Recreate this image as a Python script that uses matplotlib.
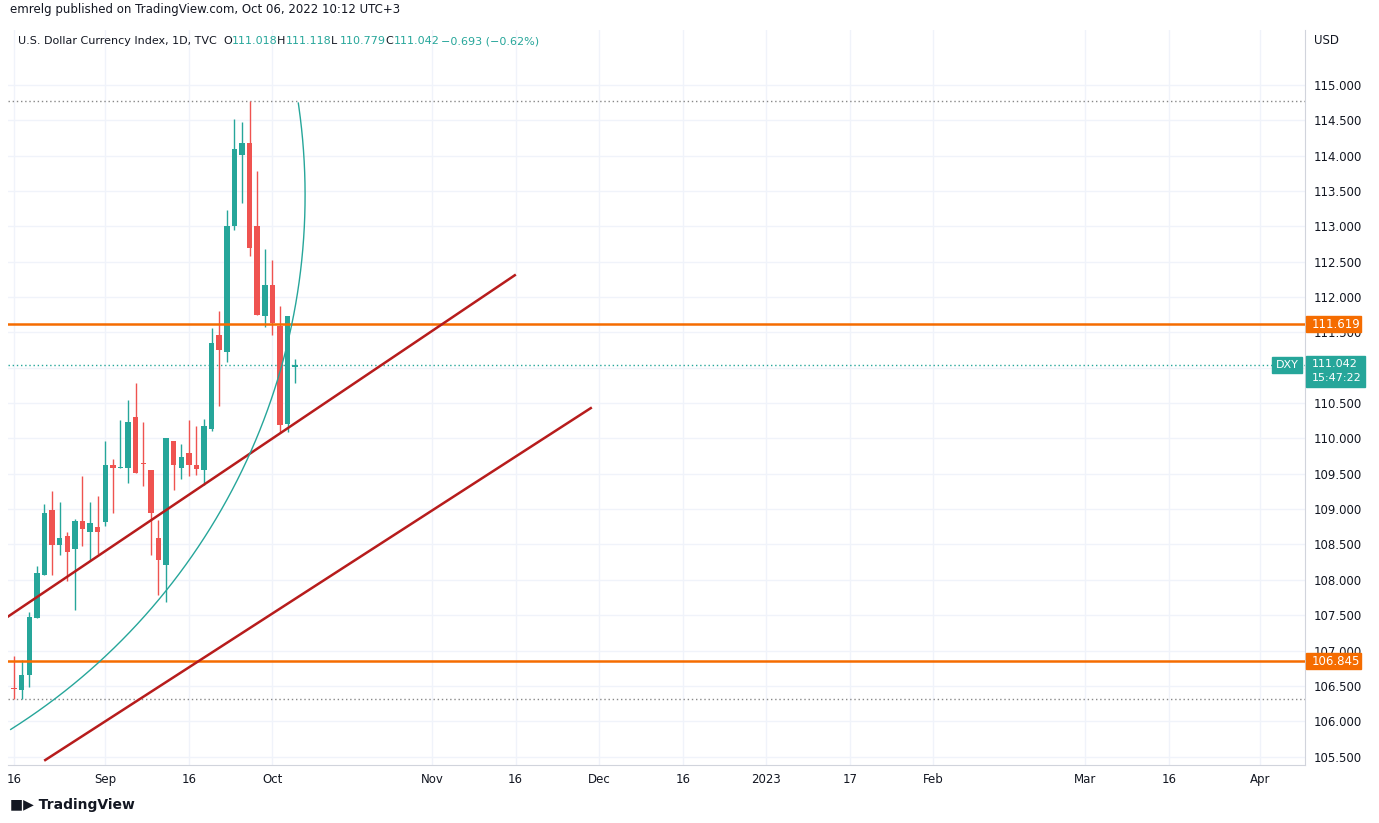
import numpy as np
import pandas as pd
import matplotlib.pyplot as plt
from matplotlib.patches import Rectangle

# daily candles, Aug 16 2022 .. Oct 6 2022 (weekdays)
opens = [106.47, 106.44, 106.66, 107.46, 108.07, 108.99, 108.49, 108.62, 108.44, 108.83,
         108.68, 108.75, 108.82, 109.63, 109.58, 109.58, 110.31, 109.66, 109.56, 108.59,
         108.21, 109.96, 109.58, 109.79, 109.63, 109.56, 110.14, 111.47, 111.22, 113.01,
         114.01, 114.18, 113.01, 111.73, 112.17, 111.59, 110.20, 111.018]
highs = [106.92, 106.87, 107.54, 108.20, 109.08, 109.25, 109.10, 108.67, 108.86, 109.47,
         109.10, 109.19, 109.96, 109.71, 110.26, 110.54, 110.78, 110.23, 109.56, 108.84,
         110.00, 109.96, 109.92, 110.26, 110.17, 110.28, 111.57, 111.81, 113.23, 114.52,
         114.48, 114.78, 113.79, 112.68, 112.53, 111.88, 111.73, 111.118]
lows = [106.31, 106.31, 106.49, 107.46, 108.07, 108.07, 108.35, 107.99, 107.58, 108.48,
        108.28, 108.37, 108.76, 108.94, 109.58, 109.37, 109.51, 109.33, 108.35, 107.79,
        107.68, 109.27, 109.42, 109.47, 109.49, 109.34, 110.11, 110.46, 111.08, 112.95,
        113.33, 112.58, 111.75, 111.58, 111.46, 110.09, 110.09, 110.779]
closes = [106.45, 106.65, 107.47, 108.09, 108.94, 108.49, 108.59, 108.40, 108.83, 108.72,
          108.81, 108.67, 109.62, 109.58, 109.59, 110.24, 109.51, 109.64, 108.94, 108.28,
          110.00, 109.63, 109.74, 109.63, 109.57, 110.18, 111.35, 111.25, 113.01, 114.10,
          114.18, 112.69, 111.75, 112.17, 111.64, 110.19, 111.73, 111.042]

# drawings (bar index, price)
line1 = [(-0.8, 107.48), (65.9, 112.31)]
line2 = [(4.1, 105.45), (75.9, 110.43)]
hlines = [111.619, 106.845]
arc_center = (-44.9, 113.44)
arc_radius = (83.2, 8.94)
arc_deg = (-57.7, 8.4)

xtick_dates = ["2022-08-16", "2022-09-01", "2022-09-16", "2022-10-03", "2022-11-01", "2022-11-16",
               "2022-12-01", "2022-12-16", "2023-01-02", "2023-01-17", "2023-02-01", "2023-03-01",
               "2023-03-16", "2023-04-03"]
xtick_labels = ["16", "Sep", "16", "Oct", "Nov", "16", "Dec", "16", "2023", "17", "Feb", "Mar", "16", "Apr"]

GREEN = "#26a69a"
RED = "#ef5350"
ORANGE = "#f56c00"
DRED = "#b71c1c"
GRID = "#f0f3fa"
TXT = "#131722"

W, H = 1379, 823
fig = plt.figure(figsize=(W / 100, H / 100), dpi=100)
ax = fig.add_axes([8 / W, (H - 765) / H, 1297 / W, 735 / H])

start = np.datetime64("2022-08-16")
xt = [np.busday_count(start, np.datetime64(d)) for d in xtick_dates]

ax.set_xlim(-0.8, 169.9)
ax.set_ylim(105.38, 115.78)
ax.set_xticks(xt)
ax.set_xticklabels(xtick_labels)
yt = np.arange(105.5, 115.01, 0.5)
ax.set_yticks(yt)
ax.set_yticklabels([f"{v:.3f}" for v in yt])
ax.yaxis.tick_right()
ax.tick_params(length=0, labelsize=8.5, colors=TXT, pad=6)
ax.grid(True, color=GRID, lw=1)
ax.set_axisbelow(True)
for s in ["top", "left"]:
    ax.spines[s].set_visible(False)
ax.spines["right"].set_color("#d1d4dc")
ax.spines["bottom"].set_color("#d1d4dc")

for i, (o, h, l, c) in enumerate(zip(opens, highs, lows, closes)):
    col = GREEN if c >= o else RED
    ax.vlines(i, l, h, color=col, lw=1, zorder=3)
    lo, hi = min(o, c), max(o, c)
    ax.add_patch(Rectangle((i - 0.36, lo), 0.72, max(hi - lo, 0.02), color=col, zorder=3, lw=0))

ax.axhline(max(highs), color="#888888", ls=(0, (1, 2)), lw=1)
ax.axhline(min(lows), color="#888888", ls=(0, (1, 2)), lw=1)
ax.axhline(closes[-1], color=GREEN, ls=(0, (1, 2)), lw=1)
for p in hlines:
    ax.axhline(p, color=ORANGE, lw=1.8, zorder=4)
for ln in [line1, line2]:
    ax.plot([ln[0][0], ln[1][0]], [ln[0][1], ln[1][1]], color=DRED, lw=1.8, zorder=4)
t = np.radians(np.linspace(arc_deg[0], arc_deg[1], 200))
ax.plot(arc_center[0] + arc_radius[0] * np.cos(t), arc_center[1] + arc_radius[1] * np.sin(t),
        color=GREEN, lw=1, zorder=4)

# price tags
def tag(y, text, color, x0=1306, w=55):
    fy = ax.transData.transform((0, y))[1] / H
    fig.patches.append(Rectangle((x0 / W, fy - 8 / H), w / W, 16 / H, color=color,
                                 transform=fig.transFigure, zorder=5))
    fig.text((x0 + 6) / W, fy, text, color="white", fontsize=8.5, va="center", zorder=6)

for p in hlines:
    tag(p, f"{p:.3f}", ORANGE)
yy = ax.transData.transform((0, closes[-1]))[1] / H
fig.patches.append(Rectangle((1306 / W, yy - 22 / H), 59 / W, 31 / H, color=GREEN,
                             transform=fig.transFigure, zorder=5))
fig.text(1312 / W, yy + 1 / H, f"{closes[-1]:.3f}", color="white", fontsize=8, va="center", zorder=6)
fig.text(1312 / W, yy - 13 / H, "15:47:22", color="white", fontsize=8, va="center", zorder=6)
fig.patches.append(Rectangle((1272 / W, yy - 8 / H), 30 / W, 16 / H, color=GREEN,
                             transform=fig.transFigure, zorder=5))
fig.text(1287 / W, yy, "DXY", color="white", fontsize=8, va="center", ha="center", zorder=6)

fig.text(1314 / W, 1 - 40 / H, "USD", fontsize=8.5, color=TXT, va="center")
fig.text(10 / W, 1 - 10 / H, "emrelg published on TradingView.com, Oct 06, 2022 10:12 UTC+3",
         fontsize=8.5, color=TXT, va="center")
fig.text(18 / W, 1 - 41 / H, "U.S. Dollar Currency Index, 1D, TVC", fontsize=8, color=TXT, va="center")
hdr = [("O", "111.018"), ("H", "111.118"), ("L", "110.779"), ("C", "111.042")]
x = 223
for k, v in hdr:
    fig.text(x / W, 1 - 41 / H, k, fontsize=8, color=TXT, va="center")
    fig.text((x + 9) / W, 1 - 41 / H, v, fontsize=8, color=GREEN, va="center")
    x += 54
fig.text(441 / W, 1 - 41 / H, "\u22120.693 (\u22120.62%)", fontsize=8, color=GREEN, va="center")
fig.text(10 / W, 1 - 805 / H, "\u25a0\u25b6 TradingView", fontsize=10, color=TXT, va="center", weight="bold")

fig.savefig("out.png", dpi=100, facecolor="white")
